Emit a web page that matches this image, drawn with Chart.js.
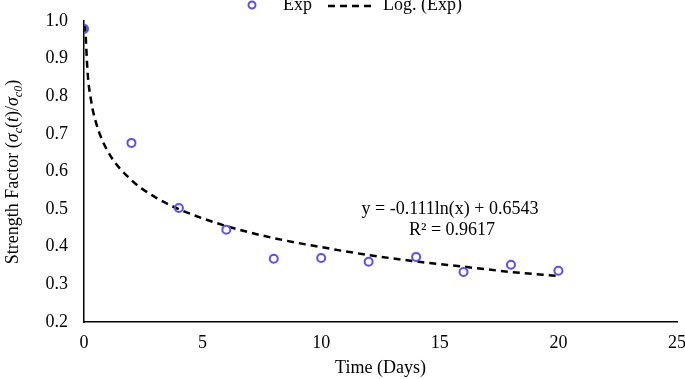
<!DOCTYPE html>
<html>
<head>
<meta charset="utf-8">
<script src="https://cdn.jsdelivr.net/npm/chart.js@4.4.0/dist/chart.umd.min.js"></script>
<style>
  html, body { margin: 0; padding: 0; background: #fff; }
  #wrap { width: 685px; height: 379px; }
</style>
</head>
<body>
<div id="wrap"><canvas id="strengthChart"></canvas></div>
<script>
// Measured strength factor
const days = [0, 2, 4, 6, 8, 10, 12, 14, 16, 18, 20];
const strength = [0.979, 0.676, 0.503, 0.445, 0.368, 0.370, 0.360, 0.373, 0.333, 0.352, 0.336];

// Log trendline
const trendDays = [0.05, 0.15, 0.3, 0.5, 1, 2, 3, 4, 6, 8, 10, 12, 14, 16, 18, 20];
const trendStrength = [0.99, 0.865, 0.788, 0.731, 0.654, 0.577, 0.532, 0.500, 0.455, 0.423, 0.399, 0.378, 0.361, 0.347, 0.333, 0.322];

const xTicks = [0, 5, 10, 15, 20, 25];
const yTicks = [0.2, 0.3, 0.4, 0.5, 0.6, 0.7, 0.8, 0.9, 1.0];

const equationText = 'y = -0.111ln(x) + 0.6543';
const r2Text = 'R² = 0.9617';

const serif = '"Liberation Serif", "Times New Roman", serif';
const markerColor = '#5a4ff0';

// legend, equation and the y title with subscripts
const extrasPlugin = {
  id: 'extras',
  afterDraw(chart) {
    const ctx = chart.ctx;
    ctx.save();
    ctx.fillStyle = '#000';
    ctx.textBaseline = 'alphabetic';

    // legend
    ctx.beginPath();
    ctx.arc(252, 5, 3.5, 0, Math.PI * 2);
    ctx.lineWidth = 2;
    ctx.strokeStyle = markerColor;
    ctx.stroke();
    ctx.font = '18px ' + serif;
    ctx.textAlign = 'left';
    ctx.fillText('Exp', 283, 10);
    ctx.beginPath();
    ctx.setLineDash([7, 5]);
    ctx.lineWidth = 2.5;
    ctx.strokeStyle = '#000';
    ctx.moveTo(328, 6);
    ctx.lineTo(375, 6);
    ctx.stroke();
    ctx.setLineDash([]);
    ctx.fillText('Log. (Exp)', 383, 10);

    // trendline equation
    ctx.textAlign = 'center';
    ctx.fillText(equationText, 450, 214);
    ctx.fillText(r2Text, 452, 235);

    // rotated y title
    const parts = [
      ['Strength Factor (', '18px ' + serif, 0],
      ['σ', 'italic 18px ' + serif, 0],
      ['c', 'italic 12px ' + serif, 4],
      ['(', '18px ' + serif, 0],
      ['t', 'italic 18px ' + serif, 0],
      [')/', '18px ' + serif, 0],
      ['σ', 'italic 18px ' + serif, 0],
      ['c0', 'italic 12px ' + serif, 4],
      [')', '18px ' + serif, 0]
    ];
    let total = 0;
    parts.forEach(p => { ctx.font = p[1]; total += ctx.measureText(p[0]).width; });
    ctx.translate(18, 172);
    ctx.rotate(-Math.PI / 2);
    ctx.textAlign = 'left';
    let x = -total / 2;
    parts.forEach(p => {
      ctx.font = p[1];
      ctx.fillText(p[0], x, p[2]);
      x += ctx.measureText(p[0]).width;
    });
    ctx.restore();
  }
};

const ctx = document.getElementById('strengthChart').getContext('2d');
new Chart(ctx, {
  type: 'scatter',
  data: {
    datasets: [
      {
        label: 'Exp',
        data: days.map((d, i) => ({ x: d, y: strength[i] })),
        pointStyle: 'circle',
        pointRadius: 4,
        pointBorderWidth: 2,
        pointBorderColor: markerColor,
        pointBackgroundColor: 'rgba(255,255,255,0)',
        showLine: false,
        order: 1
      },
      {
        label: 'Log. (Exp)',
        data: trendDays.map((d, i) => ({ x: d, y: trendStrength[i] })),
        showLine: true,
        pointRadius: 0,
        borderColor: '#000',
        borderWidth: 2.5,
        borderDash: [7, 5],
        cubicInterpolationMode: 'monotone',
        order: 2
      }
    ]
  },
  options: {
    responsive: true,
    maintainAspectRatio: false,
    animation: false,
    layout: { padding: { left: 0, right: 8, top: 21, bottom: 0 } },
    plugins: {
      legend: { display: false },
      tooltip: { enabled: false }
    },
    scales: {
      x: {
        type: 'linear',
        min: 0,
        max: 25,
        afterBuildTicks: s => { s.ticks = xTicks.map(v => ({ value: v })); },
        grid: { display: false, drawTicks: false },
        border: { color: '#000', width: 1.5 },
        ticks: {
          padding: 10,
          color: '#000',
          font: { family: serif, size: 18 },
          callback: v => String(v)
        },
        title: {
          display: true,
          text: 'Time (Days)',
          color: '#000',
          font: { family: serif, size: 18 },
          padding: { top: 4, bottom: 0 }
        },
        afterFit: s => {
          s.height = 57;
          s.paddingLeft = 0;
          s.paddingRight = 0;
        }
      },
      y: {
        type: 'linear',
        min: 0.2,
        max: 1.0,
        afterBuildTicks: s => { s.ticks = yTicks.map(v => ({ value: v })); },
        grid: { display: false, drawTicks: false },
        border: { color: '#000', width: 1.5 },
        ticks: {
          padding: 16,
          color: '#000',
          font: { family: serif, size: 18 },
          callback: v => Number(v).toFixed(1)
        },
        afterFit: s => {
          s.width = 84;
          s.paddingTop = 0;
          s.paddingBottom = 0;
        }
      }
    }
  },
  plugins: [extrasPlugin]
});
</script>
</body>
</html>
